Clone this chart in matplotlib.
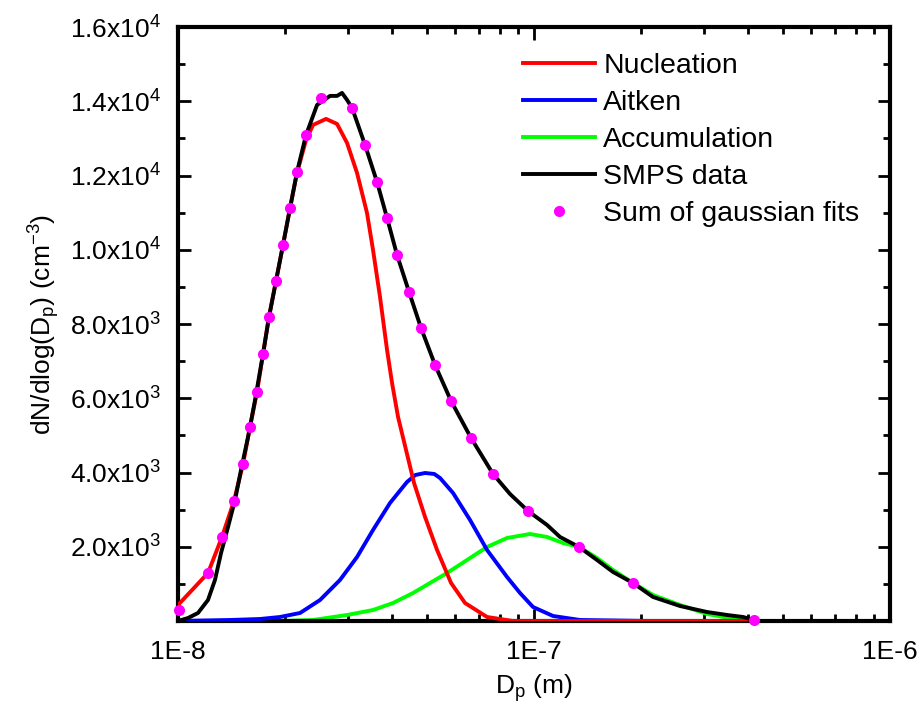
import matplotlib
matplotlib.use("Agg")
import numpy as np
import matplotlib.pyplot as plt
from matplotlib.ticker import LogLocator, NullFormatter

plt.rcParams["font.family"] = ["Liberation Sans", "DejaVu Sans"]
plt.rcParams["mathtext.fontset"] = "custom"
plt.rcParams["mathtext.rm"] = "Liberation Sans"
plt.rcParams["mathtext.it"] = "Liberation Sans:italic"
plt.rcParams["mathtext.default"] = "regular"

# diameters in nm, concentrations in cm^-3
nuc_d = [10.00, 11.02, 12.14, 13.29, 14.36, 15.23, 15.93, 16.67, 17.33, 18.01,
         18.85, 19.72, 20.64, 21.59, 22.89, 23.95, 26.05, 27.97, 29.84, 31.83,
         33.95, 35.30, 36.93, 38.65, 39.92, 41.50, 43.70, 46.02, 49.42, 53.41,
         58.47, 64.00, 73.79, 87.30, 415.0]
nuc_n = [431, 862, 1293, 2263, 3233, 4230, 5226, 6169, 7193, 8190,
         9160, 10129, 11126, 12069, 12958, 13362, 13524, 13389, 12877, 12069,
         10992, 9995, 8729, 7301, 6412, 5496, 4607, 3718, 2802, 1913,
         1024, 485, 108, 0, 0]

ait_d = [10.00, 14.00, 17.00, 19.34, 22.02, 25.06, 28.51, 31.83, 35.30, 39.40,
         43.98, 46.43, 49.42, 52.47, 54.45, 59.23, 66.11, 73.79, 83.98, 91.34,
         99.36, 113.1, 134.7, 211.8, 415.0]
ait_n = [0, 27, 54, 108, 216, 566, 1105, 1724, 2452, 3179,
         3745, 3933, 3987, 3960, 3852, 3448, 2721, 1913, 1185, 754,
         377, 135, 27, 0, 0]

acc_d = [10.00, 19.34, 23.95, 29.84, 35.30, 40.18, 45.73, 51.04, 56.97, 64.84,
         73.79, 83.98, 97.44, 108.8, 120.6, 133.8, 150.3, 166.7, 189.7, 215.9,
         257.1, 306.2, 379.1, 415.0]
acc_n = [0, 0, 27, 162, 296, 485, 754, 1024, 1293, 1643,
         1994, 2236, 2344, 2263, 2101, 1994, 1697, 1374, 1024, 700,
         431, 189, 27, 0]

smps_d = [10.00, 10.67, 11.38, 12.14, 12.70, 13.21, 13.82, 14.46, 15.03, 15.73,
          16.46, 17.33, 18.01, 18.85, 19.72, 20.64, 21.59, 22.89, 24.58, 26.73,
          27.97, 28.89, 29.84, 30.83, 33.52, 36.22, 38.65, 41.23, 44.56, 48.15,
          52.72, 58.47, 66.54, 76.71, 85.62, 96.19, 108.8, 118.3, 133.8, 150.3,
          166.7, 189.7, 215.9, 257.1, 306.2, 348.5, 386.5, 415.0]
smps_n = [0, 81, 216, 566, 1105, 1832, 2532, 3260, 4068, 4957,
          5954, 7193, 8190, 9160, 10129, 11126, 12096, 13093, 13901, 14144,
          14144, 14224, 14036, 13820, 12823, 11827, 10857, 9860, 8863, 7893,
          6897, 5927, 4930, 3960, 3421, 2963, 2586, 2263, 1994, 1643,
          1320, 1024, 647, 404, 242, 162, 108, 27]

fit_d = [10.06, 12.14, 13.29, 14.36, 15.23, 15.93, 16.67, 17.33, 18.01, 18.85,
         19.72, 20.64, 21.59, 22.89, 25.22, 30.83, 33.52, 36.22, 38.65, 41.23,
         44.56, 48.15, 52.72, 58.47, 66.54, 76.71, 96.19, 133.8, 189.7, 415.0]
fit_n = [296, 1293, 2263, 3233, 4230, 5226, 6169, 7193, 8190, 9160,
         10129, 11126, 12096, 13093, 14090, 13820, 12823, 11827, 10857, 9860,
         8863, 7893, 6897, 5927, 4930, 3960, 2963, 1994, 1024, 27]

x_ticks = [1e-8, 1e-7, 1e-6]
x_labels = ["1E-8", "1E-7", "1E-6"]
y_ticks = [2000, 4000, 6000, 8000, 10000, 12000, 14000, 16000]
y_labels = [r"2.0x10$^{3}$", r"4.0x10$^{3}$", r"6.0x10$^{3}$", r"8.0x10$^{3}$",
            r"1.0x10$^{4}$", r"1.2x10$^{4}$", r"1.4x10$^{4}$", r"1.6x10$^{4}$"]
y_minor = [1000, 3000, 5000, 7000, 9000, 11000, 13000, 15000]


def m(d_nm):
    return np.array(d_nm) * 1e-9


fig = plt.figure(figsize=(9.19, 7.2), dpi=100)
ax = fig.add_axes([0.1937, 0.1375, 0.7748, 0.825])

lw = 2.8
acc_line, = ax.plot(m(acc_d), acc_n, color="#00ff00", lw=lw, label="Accumulation", zorder=2)
ait_line, = ax.plot(m(ait_d), ait_n, color="#0000ff", lw=lw, label="Aitken", zorder=3)
nuc_line, = ax.plot(m(nuc_d), nuc_n, color="#ff0000", lw=lw, label="Nucleation", zorder=4)
smps_line, = ax.plot(m(smps_d), smps_n, color="black", lw=lw, label="SMPS data", zorder=5)
fit_pts, = ax.plot(m(fit_d), fit_n, "o", color="#ff00ff", ms=8, mec="none",
                   label="Sum of gaussian fits", zorder=6, clip_on=False)

ax.set_xscale("log")
ax.set_xlim(1e-8, 1e-6)
ax.set_ylim(0, 16000)

ax.set_xticks(x_ticks)
ax.set_xticklabels(x_labels)
ax.xaxis.set_minor_locator(LogLocator(base=10, subs=range(2, 10)))
ax.xaxis.set_minor_formatter(NullFormatter())
ax.set_yticks(y_ticks)
ax.set_yticklabels(y_labels)
ax.set_yticks(y_minor, minor=True)

ax.tick_params(which="both", direction="in", top=True, right=True, width=2)
ax.tick_params(which="major", length=9)
ax.tick_params(which="minor", length=5)
ax.tick_params(axis="y", which="major", pad=12, labelsize=19)
ax.tick_params(axis="x", which="major", pad=14, labelsize=19)
for s in ax.spines.values():
    s.set_linewidth(3)

ax.set_xlabel(r"D$_p$ (m)", fontsize=19, labelpad=6)
ax.set_ylabel(r"dN/dlog(D$_p$) (cm$^{-3}$)", fontsize=19, labelpad=6)

ax.legend(handles=[nuc_line, ait_line, acc_line, smps_line, fit_pts],
          loc="upper left", bbox_to_anchor=(0.485, 0.957), frameon=False,
          fontsize=20.5, handlelength=2.53, handletextpad=0.28, labelspacing=0.39,
          borderpad=0, borderaxespad=0, numpoints=1)

fig.savefig("out.png", dpi=100)
